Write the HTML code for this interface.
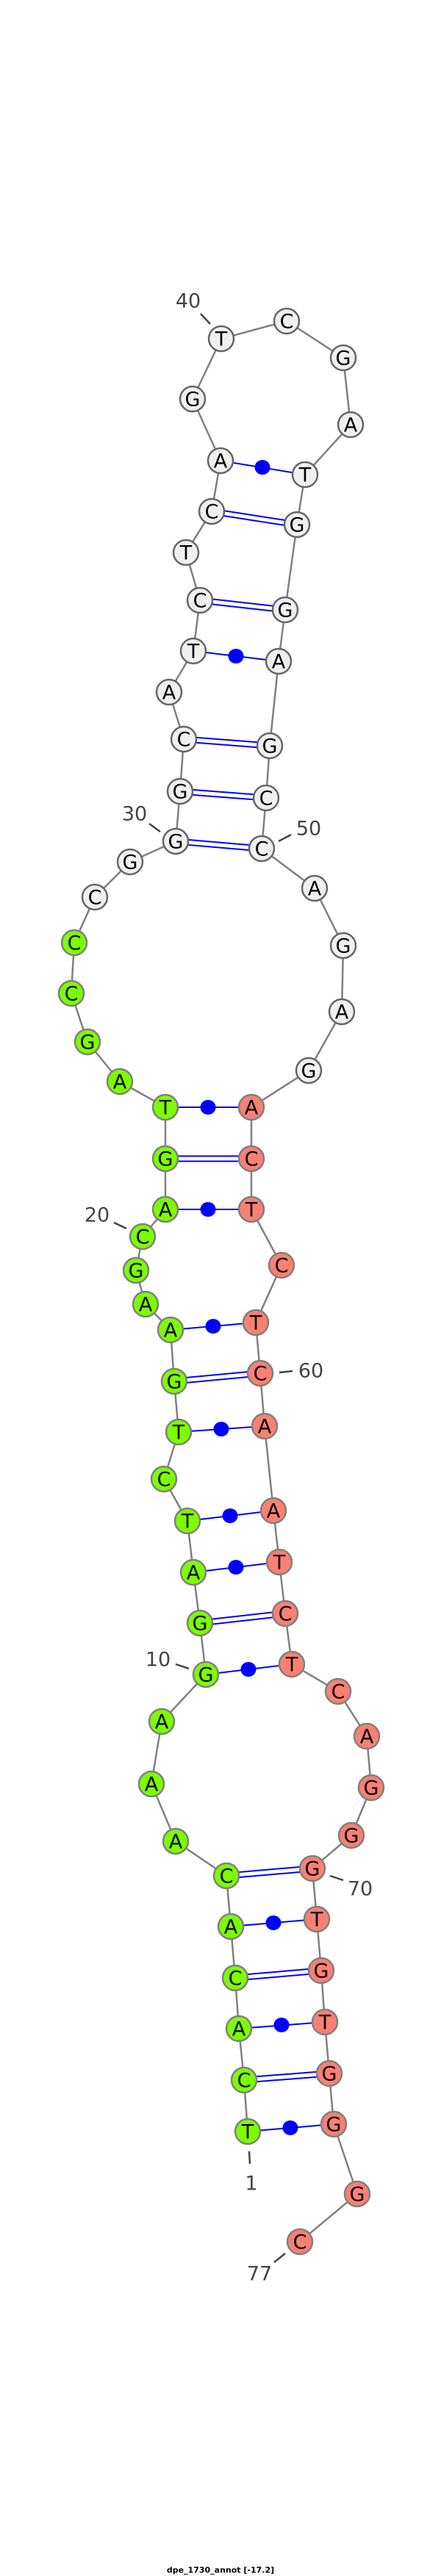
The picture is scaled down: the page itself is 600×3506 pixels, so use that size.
<!DOCTYPE html>
<html><head><meta charset="utf-8"><style>
html,body{margin:0;padding:0;background:#fff;}
svg{display:block;}
.n text{font-family:"DejaVu Sans","Liberation Sans",sans-serif;font-size:27px;text-anchor:middle;dominant-baseline:central;fill:#000;}
.lab{font-family:"DejaVu Sans","Liberation Sans",sans-serif;font-size:27px;text-anchor:middle;dominant-baseline:central;fill:#444;}
</style></head><body>
<svg width="600" height="3506" viewBox="0 0 600 3506" xmlns="http://www.w3.org/2000/svg">
<polyline fill="none" stroke="#808080" stroke-width="2.5" points="337,2901 332,2831 325,2761 320,2692 314,2622 308,2553 239,2506 206,2428 220,2343 280,2279 272,2209 263,2140 255,2070 223,2013 243,1949 237,1880 232,1810 198,1775 185,1729 194,1683 225,1646 225,1577 225,1507 163,1472 119,1418 97,1352 101,1283 129,1221 177,1173 239,1145 245,1077 250,1006 230,942 263,886 272,817 253,752 288,696 300,627 262,543 301,461 390,437 467,487 477,578 415,646 404,714 388,830 379,900 367,1015 362,1086 356,1155 428,1209 467,1287 465,1377 420,1457 342,1507 342,1577 342,1646 383,1722 348,1800 354,1869 360,1941 372,2056 380,2126 388,2196 397,2265 460,2302 499,2363 505,2433 478,2498 425,2543 431,2612 437,2682 442,2752 448,2822 454,2891 486,2986 408,3051"/>
<g stroke="#444" stroke-width="2.5">
<line x1="273" y1="427" x2="286" y2="441"/>
<line x1="203" y1="1121" x2="218" y2="1132"/>
<line x1="379" y1="1145" x2="396" y2="1136"/>
<line x1="155" y1="1664" x2="172" y2="1672"/>
<line x1="380" y1="1868" x2="398" y2="1866"/>
<line x1="239" y1="2265" x2="257" y2="2271"/>
<line x1="449" y1="2553" x2="467" y2="2559"/>
<line x1="339" y1="2928" x2="340" y2="2945"/>
<line x1="373" y1="3079" x2="388" y2="3067"/>
</g>
<g fill="none" stroke="#0000ff" stroke-width="2">
<line x1="337" y1="2901" x2="454" y2="2891"/>
<line x1="325" y1="2761" x2="442" y2="2752"/>
<line x1="314" y1="2622" x2="431" y2="2612"/>
<line x1="280" y1="2279" x2="397" y2="2265"/>
<line x1="263" y1="2140" x2="380" y2="2126"/>
<line x1="255" y1="2070" x2="372" y2="2056"/>
<line x1="243" y1="1949" x2="360" y2="1941"/>
<line x1="232" y1="1810" x2="348" y2="1800"/>
<line x1="225" y1="1646" x2="342" y2="1646"/>
<line x1="225" y1="1507" x2="342" y2="1507"/>
<line x1="263" y1="886" x2="379" y2="900"/>
<line x1="300" y1="627" x2="415" y2="646"/>
<line x1="332" y1="2827.5" x2="448" y2="2818.5"/><line x1="332" y1="2834.5" x2="448" y2="2825.5"/>
<line x1="320" y1="2688.5" x2="437" y2="2678.5"/><line x1="320" y1="2695.5" x2="437" y2="2685.5"/>
<line x1="308" y1="2549.5" x2="425" y2="2539.5"/><line x1="308" y1="2556.5" x2="425" y2="2546.5"/>
<line x1="272" y1="2205.5" x2="388" y2="2192.5"/><line x1="272" y1="2212.5" x2="388" y2="2199.5"/>
<line x1="237" y1="1876.5" x2="354" y2="1865.5"/><line x1="237" y1="1883.5" x2="354" y2="1872.5"/>
<line x1="225" y1="1573.5" x2="342" y2="1573.5"/><line x1="225" y1="1580.5" x2="342" y2="1580.5"/>
<line x1="239" y1="1141.5" x2="356" y2="1151.5"/><line x1="239" y1="1148.5" x2="356" y2="1158.5"/>
<line x1="245" y1="1073.5" x2="362" y2="1082.5"/><line x1="245" y1="1080.5" x2="362" y2="1089.5"/>
<line x1="250" y1="1002.5" x2="367" y2="1011.5"/><line x1="250" y1="1009.5" x2="367" y2="1018.5"/>
<line x1="272" y1="813.5" x2="388" y2="826.5"/><line x1="272" y1="820.5" x2="388" y2="833.5"/>
<line x1="288" y1="692.5" x2="404" y2="710.5"/><line x1="288" y1="699.5" x2="404" y2="717.5"/>
</g>
<g fill="#0000ff">
<ellipse cx="395" cy="2896" rx="10.5" ry="10"/>
<ellipse cx="383" cy="2756" rx="10.5" ry="10"/>
<ellipse cx="372" cy="2617" rx="10.5" ry="10"/>
<ellipse cx="338" cy="2272" rx="10.5" ry="10"/>
<ellipse cx="321" cy="2133" rx="10.5" ry="10"/>
<ellipse cx="313" cy="2063" rx="10.5" ry="10"/>
<ellipse cx="301" cy="1945" rx="10.5" ry="10"/>
<ellipse cx="290" cy="1805" rx="10.5" ry="10"/>
<ellipse cx="283" cy="1646" rx="10.5" ry="10"/>
<ellipse cx="283" cy="1507" rx="10.5" ry="10"/>
<ellipse cx="321" cy="893" rx="10.5" ry="10"/>
<ellipse cx="357" cy="636" rx="10.5" ry="10"/>
</g>
<g class="n" stroke-width="2.5">
<g fill="#7cfc00" stroke="#808080">
<circle cx="337" cy="2901" r="17"/><circle cx="332" cy="2831" r="17"/><circle cx="325" cy="2761" r="17"/><circle cx="320" cy="2692" r="17"/><circle cx="314" cy="2622" r="17"/><circle cx="308" cy="2553" r="17"/><circle cx="239" cy="2506" r="17"/><circle cx="206" cy="2428" r="17"/><circle cx="220" cy="2343" r="17"/><circle cx="280" cy="2279" r="17"/><circle cx="272" cy="2209" r="17"/><circle cx="263" cy="2140" r="17"/><circle cx="255" cy="2070" r="17"/><circle cx="223" cy="2013" r="17"/><circle cx="243" cy="1949" r="17"/><circle cx="237" cy="1880" r="17"/><circle cx="232" cy="1810" r="17"/><circle cx="198" cy="1775" r="17"/><circle cx="185" cy="1729" r="17"/><circle cx="194" cy="1683" r="17"/><circle cx="225" cy="1646" r="17"/><circle cx="225" cy="1577" r="17"/><circle cx="225" cy="1507" r="17"/><circle cx="163" cy="1472" r="17"/><circle cx="119" cy="1418" r="17"/><circle cx="97" cy="1352" r="17"/><circle cx="101" cy="1283" r="17"/>
</g>
<g fill="#f0f0f0" stroke="#666">
<circle cx="129" cy="1221" r="17"/><circle cx="177" cy="1173" r="17"/><circle cx="239" cy="1145" r="17"/><circle cx="245" cy="1077" r="17"/><circle cx="250" cy="1006" r="17"/><circle cx="230" cy="942" r="17"/><circle cx="263" cy="886" r="17"/><circle cx="272" cy="817" r="17"/><circle cx="253" cy="752" r="17"/><circle cx="288" cy="696" r="17"/><circle cx="300" cy="627" r="17"/><circle cx="262" cy="543" r="17"/><circle cx="301" cy="461" r="17"/><circle cx="390" cy="437" r="17"/><circle cx="467" cy="487" r="17"/><circle cx="477" cy="578" r="17"/><circle cx="415" cy="646" r="17"/><circle cx="404" cy="714" r="17"/><circle cx="388" cy="830" r="17"/><circle cx="379" cy="900" r="17"/><circle cx="367" cy="1015" r="17"/><circle cx="362" cy="1086" r="17"/><circle cx="356" cy="1155" r="17"/><circle cx="428" cy="1209" r="17"/><circle cx="467" cy="1287" r="17"/><circle cx="465" cy="1377" r="17"/><circle cx="420" cy="1457" r="17"/>
</g>
<g fill="#fa8072" stroke="#808080">
<circle cx="342" cy="1507" r="17"/><circle cx="342" cy="1577" r="17"/><circle cx="342" cy="1646" r="17"/><circle cx="383" cy="1722" r="17"/><circle cx="348" cy="1800" r="17"/><circle cx="354" cy="1869" r="17"/><circle cx="360" cy="1941" r="17"/><circle cx="372" cy="2056" r="17"/><circle cx="380" cy="2126" r="17"/><circle cx="388" cy="2196" r="17"/><circle cx="397" cy="2265" r="17"/><circle cx="460" cy="2302" r="17"/><circle cx="499" cy="2363" r="17"/><circle cx="505" cy="2433" r="17"/><circle cx="478" cy="2498" r="17"/><circle cx="425" cy="2543" r="17"/><circle cx="431" cy="2612" r="17"/><circle cx="437" cy="2682" r="17"/><circle cx="442" cy="2752" r="17"/><circle cx="448" cy="2822" r="17"/><circle cx="454" cy="2891" r="17"/><circle cx="486" cy="2986" r="17"/><circle cx="408" cy="3051" r="17"/>
</g>
<g stroke="none">
<text x="337" y="2902">T</text><text x="332" y="2832">C</text><text x="325" y="2762">A</text><text x="320" y="2693">C</text><text x="314" y="2623">A</text><text x="308" y="2554">C</text><text x="239" y="2507">A</text><text x="206" y="2429">A</text><text x="220" y="2344">A</text><text x="280" y="2280">G</text><text x="272" y="2210">G</text><text x="263" y="2141">A</text><text x="255" y="2071">T</text><text x="223" y="2014">C</text><text x="243" y="1950">T</text><text x="237" y="1881">G</text><text x="232" y="1811">A</text><text x="198" y="1776">A</text><text x="185" y="1730">G</text><text x="194" y="1684">C</text><text x="225" y="1647">A</text><text x="225" y="1578">G</text><text x="225" y="1508">T</text><text x="163" y="1473">A</text><text x="119" y="1419">G</text><text x="97" y="1353">C</text><text x="101" y="1284">C</text>
<text x="129" y="1222">C</text><text x="177" y="1174">G</text><text x="239" y="1146">G</text><text x="245" y="1078">G</text><text x="250" y="1007">C</text><text x="230" y="943">A</text><text x="263" y="887">T</text><text x="272" y="818">C</text><text x="253" y="753">T</text><text x="288" y="697">C</text><text x="300" y="628">A</text><text x="262" y="544">G</text><text x="301" y="462">T</text><text x="390" y="438">C</text><text x="467" y="488">G</text><text x="477" y="579">A</text><text x="415" y="647">T</text><text x="404" y="715">G</text><text x="388" y="831">G</text><text x="379" y="901">A</text><text x="367" y="1016">G</text><text x="362" y="1087">C</text><text x="356" y="1156">C</text><text x="428" y="1210">A</text><text x="467" y="1288">G</text><text x="465" y="1378">A</text><text x="420" y="1458">G</text>
<text x="342" y="1508">A</text><text x="342" y="1578">C</text><text x="342" y="1647">T</text><text x="383" y="1723">C</text><text x="348" y="1801">T</text><text x="354" y="1870">C</text><text x="360" y="1942">A</text><text x="372" y="2057">A</text><text x="380" y="2127">T</text><text x="388" y="2197">C</text><text x="397" y="2266">T</text><text x="460" y="2303">C</text><text x="499" y="2364">A</text><text x="505" y="2434">G</text><text x="478" y="2499">G</text><text x="425" y="2544">G</text><text x="431" y="2613">T</text><text x="437" y="2683">G</text><text x="442" y="2753">T</text><text x="448" y="2823">G</text><text x="454" y="2892">G</text><text x="486" y="2987">G</text><text x="408" y="3052">C</text>
</g>
</g>
<text class="lab" x="256" y="410">40</text>
<text class="lab" x="183" y="1108">30</text>
<text class="lab" x="420" y="1128">50</text>
<text class="lab" x="132" y="1654">20</text>
<text class="lab" x="423" y="1866">60</text>
<text class="lab" x="215" y="2259">10</text>
<text class="lab" x="490" y="2571">70</text>
<text class="lab" x="342" y="2972">1</text>
<text class="lab" x="353" y="3095">77</text>
<text x="300" y="3498" style="font-family:'DejaVu Sans','Liberation Sans',sans-serif;font-size:11px;font-weight:bold;text-anchor:middle;dominant-baseline:central;fill:#000;">dpe_1730_annot [-17.2]</text>
</svg>
</body></html>
